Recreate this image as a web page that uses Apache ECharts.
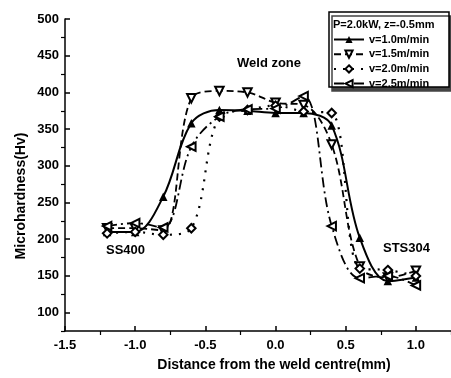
<!DOCTYPE html>
<html>
<head>
<meta charset="utf-8">
<script src="https://cdn.jsdelivr.net/npm/echarts@6/dist/echarts.min.js"></script>
<style>
  html, body { margin: 0; padding: 0; background: #fff; }
  #chart { width: 451px; height: 378px; }
</style>
</head>
<body>
<div id="chart"></div>
<script>
// distance from weld centre (mm)
const distance = [-1.2, -1.0, -0.8, -0.6, -0.4, -0.2, 0, 0.2, 0.4, 0.6, 0.8, 1.0];
// microhardness (Hv) for each welding speed
const hv10 = [210, 210, 258, 358, 376, 375, 372, 372, 355, 202, 143, 148];
const hv15 = [215, 215, 212, 392, 402, 400, 386, 383, 329, 163, 148, 157];
const hv20 = [208, 210, 206, 215, 367, 376, 382, 374, 372, 160, 158, 150];
const hv25 = [218, 222, 216, 326, 367, 377, 378, 395, 218, 147, 150, 137];
const seriesNames = ['v=1.0m/min', 'v=1.5m/min', 'v=2.0m/min', 'v=2.5m/min'];

const FONT = '"Liberation Sans", Arial, sans-serif';
const BLACK = '#000';

const chart = echarts.init(document.getElementById('chart'));

function pairs(ys) {
  return distance.map((x, i) => [x, ys[i]]);
}

function line(name, ys, symbol, rotate, dash, width) {
  return {
    name: name,
    type: 'line',
    xAxisIndex: 0,
    yAxisIndex: 0,
    smooth: 0.35,
    symbol: symbol,
    symbolSize: 8.5,
    symbolRotate: rotate,
    showAllSymbol: true,
    lineStyle: { color: BLACK, width: width, type: dash },
    itemStyle: { color: BLACK, borderWidth: 1.5 },
    emphasis: { disabled: true },
    data: pairs(ys),
  };
}

const labelStyle = { color: BLACK, fontFamily: FONT, fontWeight: 'bold', fontSize: 13 };

chart.setOption({
  animation: false,
  backgroundColor: '#fff',
  grid: [
    { left: 65, right: 0, top: 19, bottom: 47 },      // data
    { left: 65, right: 0, top: 19, bottom: 65.4 },    // y labels 100..500
    { left: 100.1, right: 0, top: 19, bottom: 47 },   // x minor ticks
    { left: 65, right: 0, top: 37.35, bottom: 47 },   // y minor ticks
  ],
  xAxis: [
    {
      gridIndex: 0, type: 'value', min: -1.5, max: 1.25, interval: 0.5,
      axisLine: { onZero: false, lineStyle: { color: BLACK, width: 1.5 } },
      axisTick: { inside: true, length: 5, lineStyle: { color: BLACK, width: 1.5 } },
      axisLabel: Object.assign({ margin: 8, showMaxLabel: false, formatter: (v) => v.toFixed(1) }, labelStyle),
      splitLine: { show: false },
    },
    { gridIndex: 1, type: 'value', min: 0, max: 1, show: false },
    {
      // shifted by +0.25 so the ticks land on -1.25, -0.75, ...
      gridIndex: 2, type: 'value', min: -1.0, max: 1.5, interval: 0.5,
      axisLine: { show: false, onZero: false },
      axisTick: { inside: false, length: 4, lineStyle: { color: BLACK, width: 1.2 } },
      axisLabel: { show: false },
      splitLine: { show: false },
    },
    { gridIndex: 3, type: 'value', min: 0, max: 1, show: false },
  ],
  yAxis: [
    {
      gridIndex: 0, type: 'value', min: 75, max: 500, interval: 25,
      axisLine: { show: true, onZero: false, lineStyle: { color: BLACK, width: 1.5 } },
      axisTick: { show: false },
      axisLabel: { show: false },
      splitLine: { show: false },
    },
    {
      gridIndex: 1, type: 'value', min: 100, max: 500, interval: 50,
      axisLine: { show: false, onZero: false },
      axisTick: { inside: true, length: 5, lineStyle: { color: BLACK, width: 1.5 } },
      axisLabel: Object.assign({ margin: 6 }, labelStyle),
      splitLine: { show: false },
    },
    { gridIndex: 2, type: 'value', min: 0, max: 1, show: false },
    {
      // shifted by +25 so the ticks land on 75, 125, ...
      gridIndex: 3, type: 'value', min: 100, max: 500, interval: 50,
      axisLine: { show: false, onZero: false },
      axisTick: { inside: false, length: 4, lineStyle: { color: BLACK, width: 1.2 } },
      axisLabel: { show: false },
      splitLine: { show: false },
    },
  ],
  legend: {
    data: seriesNames,
    orient: 'vertical',
    left: 333,
    top: 33,
    padding: 0,
    itemWidth: 30,
    itemHeight: 9,
    itemGap: 1.7,
    selectedMode: false,
    textStyle: { color: BLACK, fontFamily: FONT, fontWeight: 'bold', fontSize: 11, lineHeight: 13 },
  },
  graphic: [
    {
      type: 'rect', z: -1,
      shape: { x: 329, y: 12, width: 120, height: 75 },
      style: { fill: '#fff', stroke: BLACK, lineWidth: 1.5, shadowColor: '#444', shadowOffsetX: 3, shadowOffsetY: 4, shadowBlur: 0 },
    },
    {
      type: 'text', left: 333, top: 19,
      style: { text: 'P=2.0kW, z=-0.5mm', fill: BLACK, font: 'bold 11px ' + FONT },
    },
    {
      type: 'text', left: 237, top: 57,
      style: { text: 'Weld zone', fill: BLACK, font: 'bold 13px ' + FONT },
    },
    {
      type: 'text', left: 106, top: 244,
      style: { text: 'SS400', fill: BLACK, font: 'bold 13px ' + FONT },
    },
    {
      type: 'text', left: 383, top: 242,
      style: { text: 'STS304', fill: BLACK, font: 'bold 13px ' + FONT },
    },
    {
      type: 'text', x: 274, y: 365,
      style: { text: 'Distance from the weld centre(mm)', fill: BLACK, font: 'bold 14px ' + FONT, align: 'center', verticalAlign: 'middle' },
    },
    {
      type: 'text', x: 21, y: 196, rotation: Math.PI / 2,
      style: { text: 'Microhardness(Hv)', fill: BLACK, font: 'bold 14px ' + FONT, align: 'center', verticalAlign: 'middle' },
    },
  ],
  series: [
    line(seriesNames[0], hv10, 'triangle', 0, 'solid', 2),
    line(seriesNames[1], hv15, 'emptyTriangle', 180, [7, 4], 1.8),
    line(seriesNames[2], hv20, 'emptyDiamond', 0, [2, 7], 2.2),
    line(seriesNames[3], hv25, 'emptyTriangle', 90, [10, 4, 2, 4], 1.8),
  ],
});
</script>
</body>
</html>
